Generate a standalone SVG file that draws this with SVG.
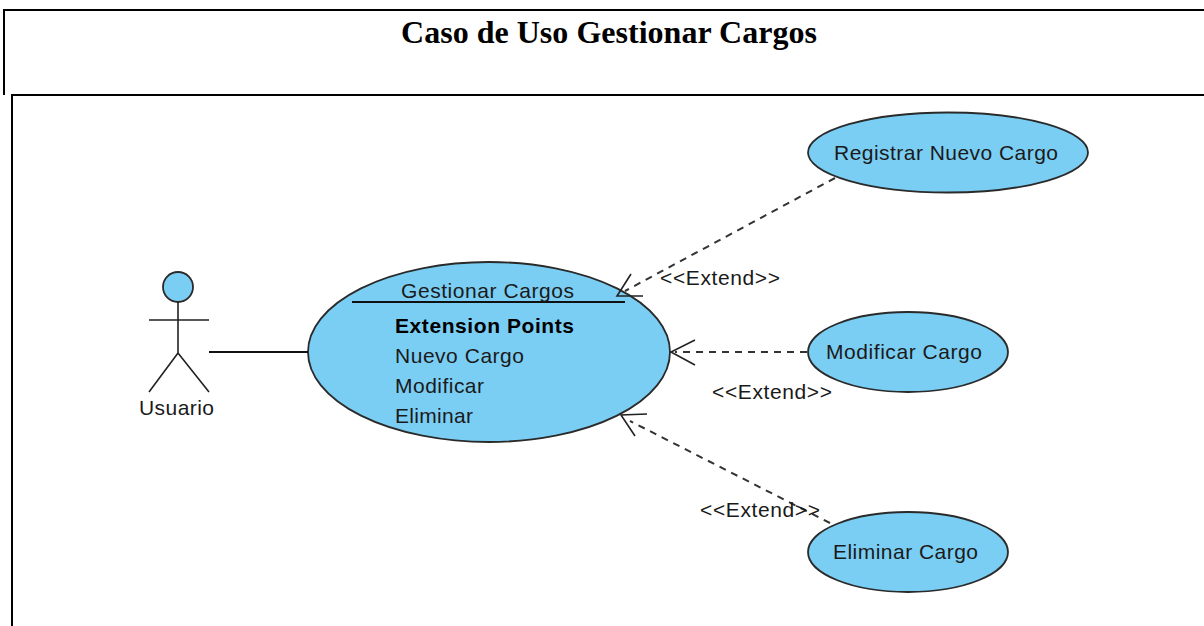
<svg xmlns="http://www.w3.org/2000/svg" width="1204" height="626" viewBox="0 0 1204 626">
<style>
.frame{fill:none;stroke:#000;stroke-width:2}
.uc{fill:#7acef4;stroke:#2a2a2a;stroke-width:1.8}
.ln{fill:none;stroke:#222;stroke-width:1.6}
.dash{fill:none;stroke:#333;stroke-width:2;stroke-dasharray:7 6}
.t{font-family:"Liberation Sans",Arial,sans-serif;font-size:21px;fill:#1a1a1a}
.b{font-weight:bold;fill:#000}
.title{font-family:"Liberation Serif","Times New Roman",serif;font-size:32px;font-weight:bold;fill:#000}
</style>
<rect width="1204" height="626" fill="#fff"/>
<g id="frame">
<path class="frame" d="M4 95V10H1204"/>
<path class="frame" d="M12 626V95H1204"/>
</g>
<text class="title" x="401" y="43" textLength="416">Caso de Uso Gestionar Cargos</text>
<g id="uc-gestionar">
<ellipse class="uc" cx="489" cy="352" rx="181" ry="90"/>
<path class="ln" style="stroke-width:2;stroke:#111" d="M352 302H625"/>
<text class="t" x="401" y="298" textLength="173">Gestionar Cargos</text>
<text class="t b" x="395" y="333" textLength="179">Extension Points</text>
<text class="t" x="395" y="363" textLength="129">Nuevo Cargo</text>
<text class="t" x="395" y="393" textLength="89">Modificar</text>
<text class="t" x="395" y="423" textLength="78">Eliminar</text>
</g>
<g id="uc-registrar">
<ellipse class="uc" cx="948" cy="152.500" rx="140" ry="40"/>
<text class="t" x="834" y="160" textLength="224">Registrar Nuevo Cargo</text>
</g>
<g id="uc-modificar">
<ellipse class="uc" cx="908" cy="352" rx="100" ry="40"/>
<text class="t" x="826" y="359" textLength="156">Modificar Cargo</text>
</g>
<g id="uc-eliminar">
<ellipse class="uc" cx="908" cy="552" rx="100" ry="40"/>
<text class="t" x="833" y="559" textLength="145">Eliminar Cargo</text>
</g>
<g id="actor-usuario">
<circle class="uc" cx="178" cy="287" r="15"/>
<path class="ln" d="M178 302V353M149 320H209M178 353L149 392M178 353L209 392"/>
<text class="t" x="139" y="415" textLength="75">Usuario</text>
</g>
<g id="connectors">
<path class="ln" style="stroke-width:2;stroke:#111" d="M209 352H308"/>
<path class="dash" d="M835 178L625 291"/>
<path class="ln" d="M631 274L617 296H643"/>
<path class="dash" d="M807 352H675"/>
<path class="ln" d="M695 340L671 352L695 365"/>
<path class="dash" d="M830 523L630 421"/>
<path class="ln" d="M647 414L621 415L635 436"/>
<text class="t" x="660" y="285" textLength="120">&lt;&lt;Extend&gt;&gt;</text>
<text class="t" x="712" y="399" textLength="120">&lt;&lt;Extend&gt;&gt;</text>
<text class="t" x="700" y="517" textLength="120">&lt;&lt;Extend&gt;&gt;</text>
</g>
</svg>
